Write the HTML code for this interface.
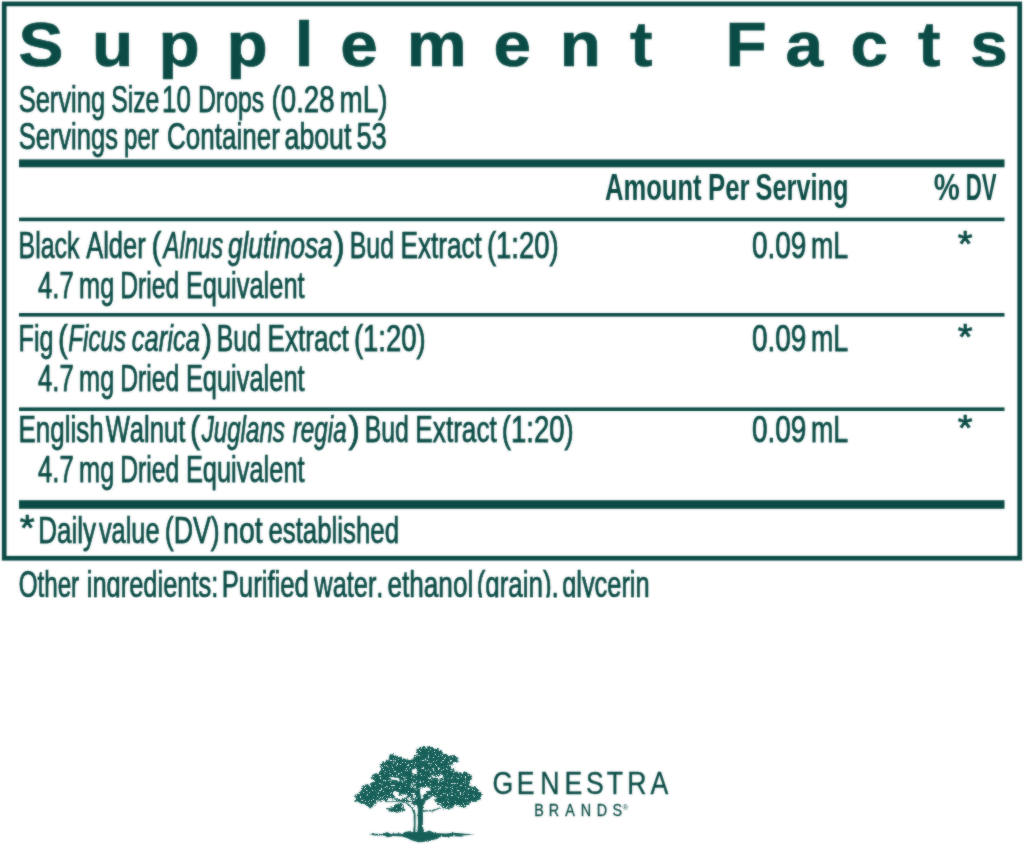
<!DOCTYPE html>
<html><head><meta charset="utf-8"><title>Supplement Facts</title>
<style>
html,body{margin:0;padding:0;background:#fff;}
body{width:1024px;height:844px;overflow:hidden;position:relative;}
svg{position:absolute;left:0;top:0;display:block;}
text{font-family:"Liberation Sans",sans-serif;fill:#0a4b45;font-kerning:none;white-space:pre;}
.b{font-weight:bold;}
.i{font-style:italic;}
.body text{stroke:#0a4b45;stroke-width:0.75px;}
.body .b{stroke-width:0;}
</style></head><body>
<svg width="1024" height="844" viewBox="0 0 1024 844">
<defs><clipPath id="c1"><rect x="0" y="0" width="1024" height="598"/></clipPath>
<filter id="soft" x="0" y="0" width="1024" height="844" filterUnits="userSpaceOnUse" color-interpolation-filters="sRGB"><feGaussianBlur stdDeviation="0.8" result="b"/><feComposite in="SourceGraphic" in2="b" operator="arithmetic" k1="0" k2="0.5" k3="0.5" k4="0"/></filter></defs>
<g filter="url(#soft)">
<rect x="4.2" y="3.9" width="1015.5" height="554.35" fill="none" stroke="#0a4b45" stroke-width="4.7"/>
<rect x="19" y="159.4" width="985.5" height="7.9" fill="#0a4b45"/>
<rect x="19" y="217.6" width="985.5" height="3.6" fill="#0a4b45"/>
<rect x="19" y="313" width="985.5" height="3.6" fill="#0a4b45"/>
<rect x="19" y="407.4" width="985.5" height="3.6" fill="#0a4b45"/>
<rect x="19" y="500.2" width="985.5" height="8.6" fill="#0a4b45"/>
<text class="b" transform="scale(1.07,1)" x="17.28 86.02 148.08 211.63 275.39 317.96 380.16 461.30 523.04 588.81 644.86 678.05 734.05 794.91 857.85 906.87" y="66.2" font-size="63" stroke="#0a4b45" stroke-width="0.7">Supplement Facts</text>
<g class="body">
<text y="111.5" font-size="36"><tspan x="18.64" textLength="86.50" lengthAdjust="spacingAndGlyphs">Serving</tspan> <tspan x="111.17" textLength="48.23" lengthAdjust="spacingAndGlyphs">Size</tspan> <tspan x="162.03" textLength="28.78" lengthAdjust="spacingAndGlyphs">10</tspan> <tspan x="197.97" textLength="66.13" lengthAdjust="spacingAndGlyphs">Drops</tspan> <tspan x="271.59" textLength="63.02" lengthAdjust="spacingAndGlyphs">(0.28</tspan> <tspan x="339.45" textLength="48.09" lengthAdjust="spacingAndGlyphs">mL)</tspan></text>
<text y="149" font-size="36"><tspan x="18.64" textLength="99.28" lengthAdjust="spacingAndGlyphs">Servings</tspan> <tspan x="124.05" textLength="34.75" lengthAdjust="spacingAndGlyphs">per</tspan> <tspan x="167.08" textLength="112.85" lengthAdjust="spacingAndGlyphs">Container</tspan> <tspan x="284.57" textLength="66.83" lengthAdjust="spacingAndGlyphs">about</tspan> <tspan x="356.41" textLength="30.39" lengthAdjust="spacingAndGlyphs">53</tspan></text>
<text y="200" font-size="36.5"><tspan class="b" x="604.96" textLength="96.65" lengthAdjust="spacingAndGlyphs">Amount</tspan> <tspan class="b" x="707.97" textLength="41.62" lengthAdjust="spacingAndGlyphs">Per</tspan> <tspan class="b" x="755.57" textLength="93.03" lengthAdjust="spacingAndGlyphs">Serving</tspan> <tspan class="b" x="933.77" textLength="26.00" lengthAdjust="spacingAndGlyphs">%</tspan> <tspan class="b" x="965.82" textLength="30.84" lengthAdjust="spacingAndGlyphs">DV</tspan></text>
<text y="258" font-size="36"><tspan x="18.56" textLength="60.91" lengthAdjust="spacingAndGlyphs">Black</tspan> <tspan x="86.20" textLength="59.42" lengthAdjust="spacingAndGlyphs">Alder</tspan> <tspan x="151.45" textLength="9.92" lengthAdjust="spacingAndGlyphs">(</tspan><tspan class="i" x="163.58" textLength="59.61" lengthAdjust="spacingAndGlyphs">Alnus</tspan> <tspan class="i" x="227.95" textLength="104.64" lengthAdjust="spacingAndGlyphs">glutinosa</tspan><tspan x="333.81" textLength="10.93" lengthAdjust="spacingAndGlyphs">)</tspan> <tspan x="349.76" textLength="44.24" lengthAdjust="spacingAndGlyphs">Bud</tspan> <tspan x="400.45" textLength="81.44" lengthAdjust="spacingAndGlyphs">Extract</tspan> <tspan x="486.89" textLength="71.91" lengthAdjust="spacingAndGlyphs">(1:20)</tspan> <tspan x="751.91" textLength="54.42" lengthAdjust="spacingAndGlyphs">0.09</tspan> <tspan x="810.92" textLength="37.16" lengthAdjust="spacingAndGlyphs">mL</tspan></text>
<text y="297.8" font-size="36"><tspan x="38.01" textLength="35.68" lengthAdjust="spacingAndGlyphs">4.7</tspan> <tspan x="79.12" textLength="35.11" lengthAdjust="spacingAndGlyphs">mg</tspan> <tspan x="120.17" textLength="59.02" lengthAdjust="spacingAndGlyphs">Dried</tspan> <tspan x="185.92" textLength="118.67" lengthAdjust="spacingAndGlyphs">Equivalent</tspan></text>
<text y="350.9" font-size="36"><tspan x="18.53" textLength="34.99" lengthAdjust="spacingAndGlyphs">Fig</tspan> <tspan x="57.88" textLength="9.80" lengthAdjust="spacingAndGlyphs">(</tspan><tspan class="i" x="68.26" textLength="57.84" lengthAdjust="spacingAndGlyphs">Ficus</tspan> <tspan class="i" x="131.87" textLength="68.01" lengthAdjust="spacingAndGlyphs">carica</tspan><tspan x="201.82" textLength="10.30" lengthAdjust="spacingAndGlyphs">)</tspan> <tspan x="216.76" textLength="44.24" lengthAdjust="spacingAndGlyphs">Bud</tspan> <tspan x="267.45" textLength="81.44" lengthAdjust="spacingAndGlyphs">Extract</tspan> <tspan x="353.89" textLength="71.91" lengthAdjust="spacingAndGlyphs">(1:20)</tspan> <tspan x="751.91" textLength="54.42" lengthAdjust="spacingAndGlyphs">0.09</tspan> <tspan x="810.92" textLength="37.16" lengthAdjust="spacingAndGlyphs">mL</tspan></text>
<text y="390.8" font-size="36"><tspan x="38.01" textLength="35.68" lengthAdjust="spacingAndGlyphs">4.7</tspan> <tspan x="79.12" textLength="35.11" lengthAdjust="spacingAndGlyphs">mg</tspan> <tspan x="120.17" textLength="59.02" lengthAdjust="spacingAndGlyphs">Dried</tspan> <tspan x="185.92" textLength="118.67" lengthAdjust="spacingAndGlyphs">Equivalent</tspan></text>
<text y="441.9" font-size="36"><tspan x="18.47" textLength="85.11" lengthAdjust="spacingAndGlyphs">English</tspan> <tspan x="105.69" textLength="79.70" lengthAdjust="spacingAndGlyphs">Walnut</tspan> <tspan x="190.01" textLength="10.17" lengthAdjust="spacingAndGlyphs">(</tspan><tspan class="i" x="201.66" textLength="83.24" lengthAdjust="spacingAndGlyphs">Juglans</tspan> <tspan class="i" x="292.80" textLength="53.83" lengthAdjust="spacingAndGlyphs">regia</tspan><tspan x="348.55" textLength="11.37" lengthAdjust="spacingAndGlyphs">)</tspan> <tspan x="364.66" textLength="44.24" lengthAdjust="spacingAndGlyphs">Bud</tspan> <tspan x="415.35" textLength="81.44" lengthAdjust="spacingAndGlyphs">Extract</tspan> <tspan x="501.79" textLength="71.91" lengthAdjust="spacingAndGlyphs">(1:20)</tspan> <tspan x="751.91" textLength="54.42" lengthAdjust="spacingAndGlyphs">0.09</tspan> <tspan x="810.92" textLength="37.16" lengthAdjust="spacingAndGlyphs">mL</tspan></text>
<text y="481.8" font-size="36"><tspan x="38.01" textLength="35.68" lengthAdjust="spacingAndGlyphs">4.7</tspan> <tspan x="79.12" textLength="35.11" lengthAdjust="spacingAndGlyphs">mg</tspan> <tspan x="120.17" textLength="59.02" lengthAdjust="spacingAndGlyphs">Dried</tspan> <tspan x="185.92" textLength="118.67" lengthAdjust="spacingAndGlyphs">Equivalent</tspan></text>
<text y="542.5" font-size="36"><tspan x="38.37" textLength="57.68" lengthAdjust="spacingAndGlyphs">Daily</tspan> <tspan x="98.91" textLength="60.61" lengthAdjust="spacingAndGlyphs">value</tspan> <tspan x="164.74" textLength="54.91" lengthAdjust="spacingAndGlyphs">(DV)</tspan> <tspan x="223.11" textLength="39.60" lengthAdjust="spacingAndGlyphs">not</tspan> <tspan x="268.40" textLength="130.66" lengthAdjust="spacingAndGlyphs">established</tspan></text>
<text x="957.79" y="257.3" font-size="37" textLength="14.81" lengthAdjust="spacingAndGlyphs">*</text>
<text x="957.79" y="350.2" font-size="37" textLength="14.81" lengthAdjust="spacingAndGlyphs">*</text>
<text x="957.79" y="441.2" font-size="37" textLength="14.81" lengthAdjust="spacingAndGlyphs">*</text>
<text x="19.88" y="541" font-size="37" textLength="14.92" lengthAdjust="spacingAndGlyphs">*</text>
<g clip-path="url(#c1)">
<text y="597.3" font-size="36"><tspan x="18.65" textLength="60.55" lengthAdjust="spacingAndGlyphs">Other</tspan> <tspan x="86.80" textLength="131.52" lengthAdjust="spacingAndGlyphs">ingredients:</tspan> <tspan x="221.69" textLength="87.17" lengthAdjust="spacingAndGlyphs">Purified</tspan> <tspan x="314.34" textLength="69.04" lengthAdjust="spacingAndGlyphs">water,</tspan> <tspan x="387.49" textLength="85.76" lengthAdjust="spacingAndGlyphs">ethanol</tspan> <tspan x="476.69" textLength="82.03" lengthAdjust="spacingAndGlyphs">(grain),</tspan> <tspan x="562.13" textLength="87.52" lengthAdjust="spacingAndGlyphs">glycerin</tspan></text>
</g>
</g>
<text transform="scale(0.86,1)" x="572.74 600.74 628.22 656.32 681.36 705.48 729.36 756.29" y="794" font-size="31" stroke="#0a4b45" stroke-width="0.35">GENESTRA</text>
<text transform="scale(0.87,1)" x="614.14 630.87 649.78 667.49 686.06 704.04" y="816" font-size="16.5" stroke="#0a4b45" stroke-width="0.3">BRANDS</text>
<text x="622.4" y="809.6" font-size="7.8">®</text>
<defs>
<filter id="rough" x="-5%" y="-5%" width="110%" height="110%">
<feTurbulence type="fractalNoise" baseFrequency="0.35" numOctaves="2" seed="7" result="t"/>
<feDisplacementMap in="SourceGraphic" in2="t" scale="5" xChannelSelector="R" yChannelSelector="G" result="d"/>
<feTurbulence type="fractalNoise" baseFrequency="0.6" numOctaves="2" seed="11" result="n"/>
<feColorMatrix in="n" type="matrix" values="0 0 0 0 0 0 0 0 0 0 0 0 0 0 0 0 0 0 -16 11.3" result="m"/>
<feComposite in="d" in2="m" operator="in"/>
</filter>
<filter id="rough2" x="-5%" y="-20%" width="110%" height="140%">
<feTurbulence type="fractalNoise" baseFrequency="0.4" numOctaves="2" seed="3" result="t"/>
<feDisplacementMap in="SourceGraphic" in2="t" scale="2.5" xChannelSelector="R" yChannelSelector="G"/>
</filter>
</defs>
<g fill="#155f58">
<g filter="url(#rough)">
<polygon points="353.8,798.8 356.2,794.7 359.6,792.6 361.6,786.5 365.0,784.4 370.5,785.1 373.9,781.0 370.5,778.3 373.9,773.5 379.4,772.8 382.1,769.4 379.4,766.0 382.1,762.6 388.3,760.5 391.0,754.4 395.1,753.7 397.2,757.1 404.7,758.5 410.2,760.5 414.3,757.1 417.0,753.7 416.3,748.9 421.1,746.6 426.6,747.5 430.0,745.5 433.4,748.2 438.9,749.6 443.0,753.7 448.4,755.7 455.3,755.0 458.0,759.1 460.7,761.2 456.6,762.6 451.2,763.9 450.5,767.3 453.9,769.4 456.0,772.8 463.5,772.1 470.3,774.2 472.4,778.3 468.9,782.4 470.3,785.8 475.8,786.5 479.2,790.6 482.6,794.7 481.2,798.8 475.8,801.5 468.9,802.2 467.6,807.0 462.1,807.7 456.6,805.6 451.2,808.4 445.7,809.0 440.2,807.0 437.5,803.6 435.4,800.2 432.0,798.1 427.2,799.5 423.8,802.9 422.5,805.6 414.3,805.6 412.2,803.6 407.4,802.2 402.0,801.8 396.5,800.2 391.0,799.1 385.5,800.2 380.1,800.8 375.3,802.9 372.6,808.4 368.5,807.7 365.0,804.3 360.9,803.2 356.8,801.8"/>
<polygon fill="#fff" points="410.8,784.1 414.3,781.9 416.1,785.4 415.6,790.8 413.9,789.0 411.6,787.2"/>
<polygon fill="#fff" points="420.1,789.0 424.1,786.8 429.4,787.7 430.7,789.9 427.6,791.6 425.0,794.3 423.2,798.3 421.0,799.2 420.1,794.3"/>
<polygon fill="#fff" points="426.3,797.4 431.2,795.6 435.2,796.1 436.5,797.4 432.1,798.3 427.6,800.1"/>
<polygon fill="#fff" points="391.7,792.5 395.7,791.6 399.7,794.3 401.4,798.3 398.3,799.6 394.8,797.4"/>
<polygon fill="#fff" points="401.9,794.3 405.4,793.4 406.8,796.1 405.0,798.3 402.3,797.4"/>
<polygon fill="#fff" points="411.6,770.3 414.8,769.0 417.0,771.7 415.6,774.8 412.5,774.3"/>
<polygon fill="#fff" points="430.7,775.7 433.4,774.3 434.7,776.5 433.0,778.3 431.2,777.9"/>
<polygon fill="#fff" points="435.6,777.0 440.1,775.2 443.2,776.1 441.9,779.2 437.9,780.1"/>
<polygon fill="#fff" points="389.0,777.4 393.0,777.0 398.3,778.3 400.5,780.5 397.4,781.0 393.4,779.7 389.4,779.2"/>
<polygon fill="#fff" points="403.2,779.7 405.0,778.3 405.9,780.5 404.1,782.3"/>
<polygon fill="#fff" points="406.8,798.8 410.8,797.9 411.6,800.1 409.0,801.0"/>
<polygon fill="#fff" points="411.6,794.3 414.3,792.5 415.6,795.2 416.1,798.8 413.4,797.9"/>
<polygon fill="#fff" points="425.0,804.1 431.2,803.2 438.3,804.1 441.9,806.3 438.3,806.8 431.2,808.5 424.1,809.0"/>
<polygon fill="#fff" points="406.3,804.1 411.6,803.4 414.3,806.8 411.6,805.4"/>
<polygon points="386.6,809.7 389.0,807.7 393.8,807.0 397.2,804.3 401.3,803.6 404.0,807.0 402.6,809.5 405.0,810.4 401.3,811.8 397.9,813.1 393.8,811.8 389.6,812.5"/>
<circle cx="451.4" cy="764.6" r="0.9"/>
<circle cx="453.5" cy="769.0" r="0.9"/>
<circle cx="455.5" cy="772.5" r="0.9"/>
<circle cx="451.9" cy="760.5" r="0.9"/>
</g>
<g filter="url(#rough2)">
<polygon points="417.4,831.6 418.0,822.7 417.7,814.7 418.0,809.4 417.0,805.0 415.2,800.5 418.3,799.2 420.5,800.5 423.6,800.1 424.5,802.3 423.2,806.8 422.8,811.2 423.0,818.3 422.8,825.4 423.6,831.6 425.4,833.8 415.6,833.8"/>
<polygon points="413.2,832.1 413.9,822.7 413.6,814.7 412.7,811.2 410.8,807.6 407.2,804.5 404.1,802.8 404.5,801.9 408.1,803.4 411.6,806.3 414.8,810.3 415.6,814.7 415.6,822.7 415.4,832.1"/>
<polygon points="418.0,799.6 416.1,794.3 414.3,789.0 411.6,784.1 413.0,783.7 415.6,788.1 417.9,793.4 420.1,799.2"/>
<polygon points="419.2,799.6 418.3,791.6 417.4,784.5 418.8,784.1 419.8,790.8 421.0,799.6"/>
<polygon points="422.8,800.5 426.8,797.0 432.1,794.8 438.3,792.5 438.7,793.4 433.0,796.1 427.6,798.8 424.5,802.8"/>
<polygon points="423.0,810.5 427.6,809.9 432.1,810.1 436.5,808.5 440.5,807.2 440.8,808.1 437.0,809.7 432.5,811.4 427.6,811.2 423.2,812.1"/>
<polygon points="385.0,801.0 390.3,801.4 395.7,801.0 402.8,802.1 402.6,802.8 395.7,801.8 390.3,802.3 385.0,801.9"/>
<polygon points="369.1,834.6 375.3,833.7 384.2,834.1 386.6,832.1 391.0,833.7 402.0,833.2 408.1,831.1 411.5,831.9 425.2,831.9 429.3,830.5 434.8,833.0 445.7,833.5 453.9,832.8 466.2,833.7 474.7,834.3 466.2,835.2 461.4,835.7 463.8,836.8 453.9,836.2 445.7,837.1 440.2,836.8 437.5,838.7 426.6,841.7 418.4,842.3 411.5,840.2 407.4,838.2 402.0,836.5 393.8,836.1 387.6,837.3 384.9,835.8 376.0,835.4"/>
</g></g>
</g>
<rect x="0" y="597.7" width="1024" height="60" fill="#fff"/>
</svg>
</body></html>
